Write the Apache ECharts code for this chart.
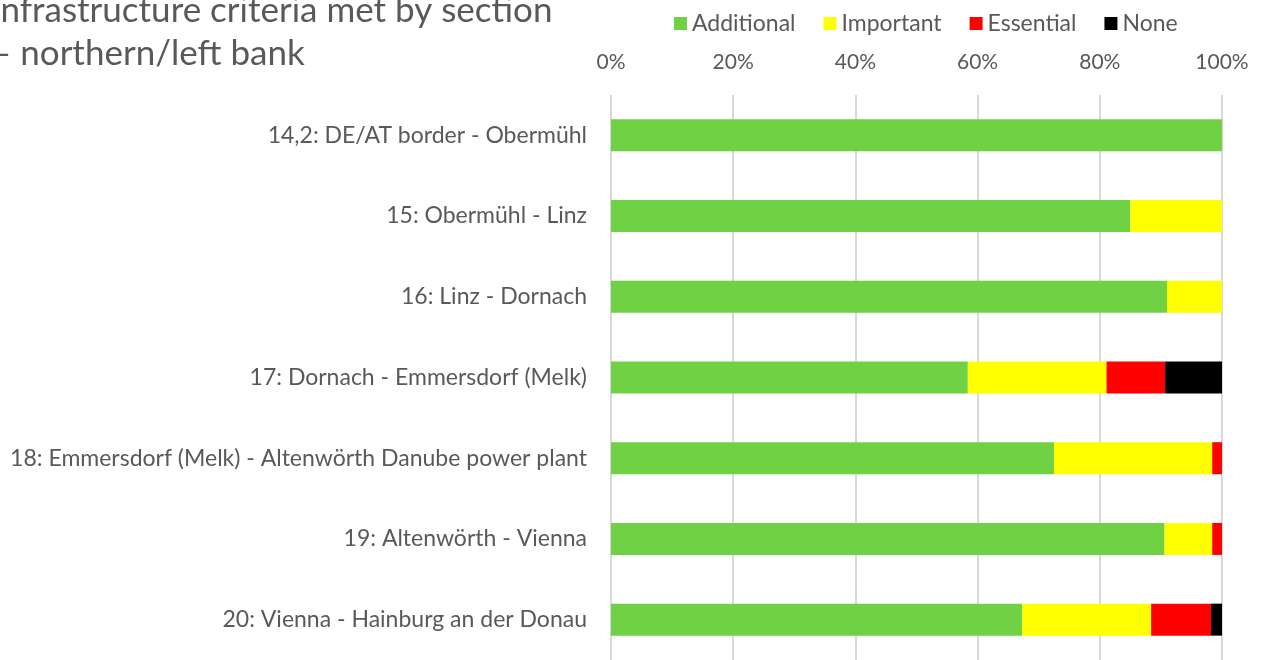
<!DOCTYPE html>
<html>
<head>
<meta charset="utf-8">
<script src="https://cdn.jsdelivr.net/npm/echarts@6/dist/echarts.min.js"></script>
<style>
  html, body { margin: 0; padding: 0; background: #fff; }
  #chart { width: 1262px; height: 660px; }
</style>
</head>
<body>
<div id="chart"></div>
<script>
  var sections = [
    '14,2: DE/AT border - Obermühl',
    '15: Obermühl - Linz',
    '16: Linz - Dornach',
    '17: Dornach - Emmersdorf (Melk)',
    '18: Emmersdorf (Melk) - Altenwörth Danube power plant',
    '19: Altenwörth - Vienna',
    '20: Vienna - Hainburg an der Donau'
  ];
  var additional = [100, 85, 91, 58.4, 72.5, 90.6, 67.3];
  var important = [0, 15, 9, 22.7, 25.9, 7.8, 21.1];
  var essential = [0, 0, 0, 9.6, 1.6, 1.6, 9.8];
  var none = [0, 0, 0, 9.3, 0, 0, 1.8];
  var tickValues = [0, 20, 40, 60, 80, 100];

  var textGray = '#595959';
  var font = 'Lato';

  var myChart = echarts.init(document.getElementById('chart'));

  function bar(name, data, color) {
    return {
      name: name,
      type: 'bar',
      stack: 'total',
      barWidth: 32,
      data: data,
      itemStyle: { color: color },
      emphasis: { disabled: true }
    };
  }

  var option = {
    backgroundColor: '#ffffff',
    animation: false,
    title: {
      text: 'Infrastructure criteria met by section\n– northern/left bank',
      left: -14,
      top: -16,
      textStyle: {
        color: textGray,
        fontFamily: font,
        fontWeight: 'normal',
        fontSize: 35,
        lineHeight: 43
      }
    },
    legend: {
      data: ['Additional', 'Important', 'Essential', 'None'],
      left: 669,
      top: 7,
      itemWidth: 13,
      itemHeight: 13,
      itemGap: 28,
      icon: 'rect',
      textStyle: { color: textGray, fontFamily: font, fontSize: 23 }
    },
    grid: {
      left: 611,
      right: 40,
      top: 95,
      height: 568
    },
    xAxis: {
      type: 'value',
      position: 'top',
      min: 0,
      max: 100,
      interval: 20,
      axisLine: { show: false },
      axisTick: { show: false },
      axisLabel: {
        color: textGray,
        fontFamily: font,
        fontSize: 21,
        margin: 22,
        formatter: function (v) {
          return tickValues.indexOf(v) >= 0 ? v + '%' : '';
        }
      },
      splitLine: { lineStyle: { color: '#d9d9d9', width: 2 } }
    },
    yAxis: {
      type: 'category',
      inverse: true,
      data: sections,
      axisLine: { show: false },
      axisTick: { show: false },
      axisLabel: {
        color: textGray,
        fontFamily: font,
        fontSize: 23,
        margin: 24
      }
    },
    series: [
      bar('Additional', additional, '#70d145'),
      bar('Important', important, '#ffff00'),
      bar('Essential', essential, '#ff0000'),
      bar('None', none, '#000000')
    ]
  };

  myChart.setOption(option);
</script>
</body>
</html>
